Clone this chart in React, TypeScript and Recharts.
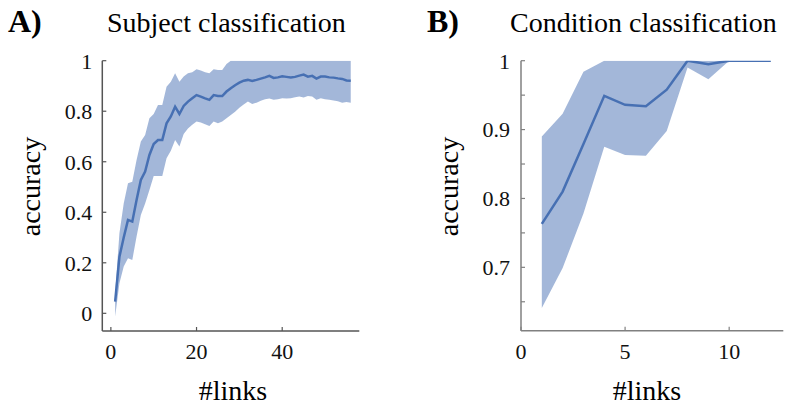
import React from 'react';
import { ComposedChart, Area, Line, XAxis, YAxis } from 'recharts';

const FONT = "Liberation Serif, Tinos, DejaVu Serif, Noto Serif, Times New Roman, serif";
const BLUE = '#4770b3';

// Panel A: Subject classification
const subjLinks = [1,2,3,4,5,6,7,8,9,10,11,12,13,14,15,16,17,18,19,20,21,22,23,24,25,26,27,28,29,30,31,32,33,34,35,36,37,38,39,40,41,42,43,44,45,46,47,48,49,50,51,52,53,54,55,56];
const subjMean = [0.046,0.224,0.30,0.37,0.363,0.449,0.528,0.561,0.627,0.670,0.686,0.686,0.752,0.779,0.818,0.789,0.821,0.838,0.851,0.864,0.858,0.851,0.845,0.864,0.860,0.860,0.878,0.891,0.903,0.913,0.921,0.924,0.920,0.924,0.929,0.934,0.940,0.932,0.934,0.938,0.936,0.934,0.936,0.941,0.945,0.937,0.940,0.929,0.937,0.937,0.934,0.933,0.930,0.928,0.922,0.921];
const subjUpper = [0.08,0.317,0.435,0.515,0.521,0.607,0.680,0.706,0.772,0.789,0.825,0.825,0.897,0.917,0.950,0.917,0.937,0.950,0.954,0.966,0.961,0.954,0.950,0.966,0.963,0.963,0.987,1,1,1,1,1,1,1,1,1,1,1,1,1,1,1,1,1,1,1,1,1,1,1,1,1,1,1,1,1];
const subjLower = [-0.013,0.119,0.185,0.218,0.211,0.304,0.389,0.435,0.488,0.544,0.544,0.544,0.614,0.644,0.686,0.660,0.710,0.732,0.746,0.759,0.755,0.748,0.742,0.759,0.752,0.759,0.772,0.785,0.798,0.814,0.827,0.838,0.829,0.834,0.841,0.847,0.850,0.845,0.847,0.851,0.850,0.851,0.855,0.858,0.854,0.860,0.858,0.845,0.851,0.847,0.845,0.842,0.839,0.834,0.837,0.834];
const subjXTicks = [0, 20, 40];
const subjYTicks = [0, 0.2, 0.4, 0.6, 0.8, 1];

// Panel B: Condition classification
const condLinks = [1,2,3,4,5,6,7,8,9,10,11,12];
const condMean = [0.763,0.810,0.879,0.949,0.936,0.934,0.958,1.0,0.995,1.0,1.0,1.0];
const condUpper = [0.890,0.923,0.984,1,1,1,1,1,1,1,1,1];
const condLower = [0.641,0.699,0.778,0.875,0.863,0.862,0.898,0.990,0.973,1.0,1.0,1.0];
const condXTicks = [0, 5, 10];
const condYTicks = [0.65, 0.7, 0.75, 0.8, 0.85, 0.9, 0.95, 1];

const tickStyle = { fill: '#111', fontSize: 22, fontFamily: FONT };

const condFormat = (v: number) => {
  const t = v * 10;
  if (Math.abs(t - Math.round(t)) < 1e-6) {
    return v === 1 ? '1' : v.toFixed(1);
  }
  return '';
};

export default function App() {
  const dataA = subjLinks.map((x, i) => ({ x, mean: subjMean[i], band: [subjLower[i], subjUpper[i]] }));
  const dataB = condLinks.map((x, i) => ({ x, mean: condMean[i], band: [condLower[i], condUpper[i]] }));
  const axA = '#555';
  const axB = '#808080';
  return (
    <div style={{ position: 'absolute', left: 0, top: 0, width: 792, height: 405, background: '#fff', overflow: 'hidden', fontFamily: FONT }}>
      <div style={{ position: 'absolute', left: 0, top: 0 }}>
        <ComposedChart width={400} height={405} data={dataA} margin={{ top: 60.7, right: 40.7, bottom: 34, left: 0 }}>
          <XAxis type="number" dataKey="x" domain={[-2, 58]} ticks={subjXTicks} allowDataOverflow height={40}
            tickSize={-4} tickMargin={16.5} tick={tickStyle}
            axisLine={{ stroke: axA, strokeWidth: 1.5 }} tickLine={{ stroke: axA, strokeWidth: 1.2 }} />
          <YAxis type="number" domain={[-0.07, 1]} ticks={subjYTicks} allowDataOverflow width={102.3}
            tickSize={-4} tickMargin={14} tick={tickStyle}
            axisLine={{ stroke: axA, strokeWidth: 1.5 }} tickLine={{ stroke: axA, strokeWidth: 1.2 }} />
          <Area type="linear" dataKey="band" stroke="none" fill={BLUE} fillOpacity={0.5} isAnimationActive={false} />
          <Line type="linear" dataKey="mean" stroke={BLUE} strokeWidth={2.5} dot={false} isAnimationActive={false} />
        </ComposedChart>
      </div>
      <div style={{ position: 'absolute', left: 400, top: 0 }}>
        <ComposedChart width={392} height={405} data={dataB} margin={{ top: 60.7, right: 8.7, bottom: 34.3, left: 0 }}>
          <XAxis type="number" dataKey="x" domain={[0, 12.6]} ticks={condXTicks} allowDataOverflow height={40}
            tickSize={-4} tickMargin={16.5} tick={tickStyle}
            axisLine={{ stroke: axB, strokeWidth: 1.5 }} tickLine={{ stroke: axB, strokeWidth: 1.2 }} />
          <YAxis type="number" domain={[0.608, 1]} ticks={condYTicks} allowDataOverflow width={121}
            tickSize={-4} tickMargin={15} tick={tickStyle} tickFormatter={condFormat}
            axisLine={{ stroke: axB, strokeWidth: 1.5 }} tickLine={{ stroke: axB, strokeWidth: 1.2 }} />
          <Area type="linear" dataKey="band" stroke="none" fill={BLUE} fillOpacity={0.5} isAnimationActive={false} />
          <Line type="linear" dataKey="mean" stroke={BLUE} strokeWidth={2.5} dot={false} isAnimationActive={false} />
        </ComposedChart>
      </div>
      <svg width={792} height={405} style={{ position: 'absolute', left: 0, top: 0, pointerEvents: 'none', fontFamily: FONT }}>
        <g fill="#000">
          <text x={8} y={32} fontSize={32} fontWeight="bold">A)</text>
          <text x={107} y={32} fontSize={28}>Subject classification</text>
          <text x={427} y={32} fontSize={32} fontWeight="bold">B)</text>
          <text x={510} y={32} fontSize={28}>Condition classification</text>
          <text x={233} y={400} fontSize={28} textAnchor="middle">#links</text>
          <text x={647} y={400} fontSize={28} textAnchor="middle">#links</text>
          <text transform="translate(39.6,186.5) rotate(-90)" fontSize={28} textAnchor="middle">accuracy</text>
          <text transform="translate(457.6,186.5) rotate(-90)" fontSize={28} textAnchor="middle">accuracy</text>
        </g>
      </svg>
    </div>
  );
}
